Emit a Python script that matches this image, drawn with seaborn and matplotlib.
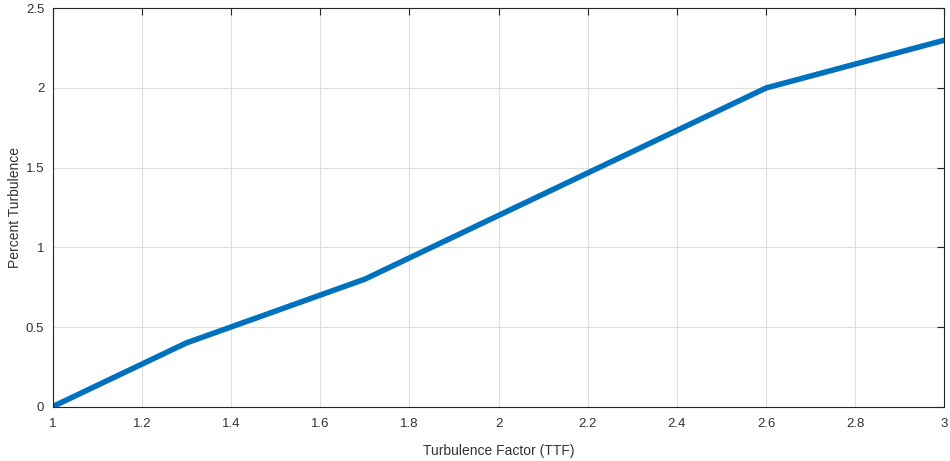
import matplotlib
matplotlib.use("Agg")
import matplotlib.pyplot as plt
import seaborn as sns
import pandas as pd

# Turbulence factor vs. percent turbulence (piecewise-linear lookup)
ttf = [1.0, 1.3, 1.7, 2.6, 3.0]
percent = [0.0, 0.4, 0.8, 2.0, 2.3]

x_ticks = [1, 1.2, 1.4, 1.6, 1.8, 2, 2.2, 2.4, 2.6, 2.8, 3]
x_tick_labels = ["1", "1.2", "1.4", "1.6", "1.8", "2", "2.2", "2.4", "2.6", "2.8", "3"]
y_ticks = [0, 0.5, 1, 1.5, 2, 2.5]
y_tick_labels = ["0", "0.5", "1", "1.5", "2", "2.5"]

sns.set_style("white")
plt.rcParams["font.family"] = ["Liberation Sans", "DejaVu Sans"]

df = pd.DataFrame({"TTF": ttf, "Percent": percent})

fig = plt.figure(figsize=(9.5, 4.61), dpi=100)
ax = fig.add_axes([0.0553, 0.1178, 0.9389, 0.8642])

sns.lineplot(data=df, x="TTF", y="Percent", ax=ax, color="#0072BD",
             linewidth=4.0, solid_capstyle="round", solid_joinstyle="round")

ax.set_xlim(1, 3)
ax.set_ylim(0, 2.5)
ax.set_xticks(x_ticks)
ax.set_xticklabels(x_tick_labels)
ax.set_yticks(y_ticks)
ax.set_yticklabels(y_tick_labels)

ax.grid(True, color="#dedede", linewidth=0.8)
ax.set_axisbelow(True)

for s in ax.spines.values():
    s.set_visible(True)
    s.set_color("#262626")
    s.set_linewidth(0.8)

ax.tick_params(axis="both", direction="in", length=5, width=0.8,
               colors="#262626", labelsize=9.5, top=True, right=True,
               labelcolor="#333333")
ax.tick_params(axis="x", pad=8)
ax.tick_params(axis="y", pad=6)

ax.set_xlabel("Turbulence Factor (TTF)", fontsize=10, color="#333333", labelpad=10)
ax.set_ylabel("Percent Turbulence", fontsize=10, color="#333333", labelpad=3)

fig.savefig("out.png", dpi=100)
